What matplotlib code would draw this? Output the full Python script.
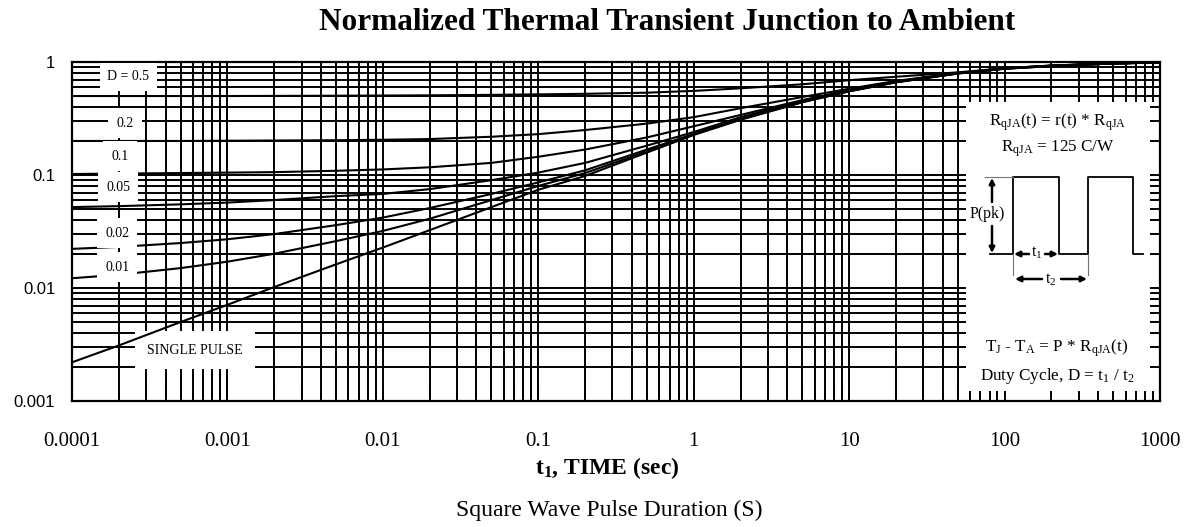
import matplotlib
matplotlib.use('Agg')
import matplotlib.pyplot as plt
from matplotlib.patches import Rectangle
from matplotlib.ticker import NullFormatter, FixedLocator

plt.rcParams['font.family'] = ['Liberation Serif', 'DejaVu Serif']
plt.rcParams['mathtext.fontset'] = 'custom'
plt.rcParams['mathtext.rm'] = 'Liberation Serif'
plt.rcParams['mathtext.it'] = 'Liberation Serif:italic'
plt.rcParams['mathtext.bf'] = 'Liberation Serif:bold'

# ---------------- data ----------------
t = [1e-4, 2e-4, 5e-4, 1e-3, 2e-3, 5e-3, 1e-2, 2e-2, 5e-2, 0.1, 0.2, 0.5,
     1, 2, 5, 10, 20, 50, 100, 200, 500, 1000]
r_d05 = [0.500, 0.500, 0.500, 0.500, 0.501, 0.503, 0.505, 0.507, 0.512, 0.517, 0.523, 0.535,
         0.555, 0.585, 0.635, 0.690, 0.740, 0.810, 0.880, 0.930, 0.975, 0.990]
r_d02 = [0.200, 0.200, 0.200, 0.201, 0.202, 0.203, 0.205, 0.208, 0.218, 0.230, 0.250, 0.285,
         0.325, 0.390, 0.490, 0.580, 0.680, 0.800, 0.880, 0.930, 0.972, 0.990]
r_d01 = [0.102, 0.103, 0.104, 0.105, 0.106, 0.109, 0.112, 0.117, 0.128, 0.145, 0.168, 0.215,
         0.270, 0.340, 0.460, 0.565, 0.672, 0.798, 0.878, 0.928, 0.972, 0.990]
r_d005 = [0.052, 0.053, 0.055, 0.057, 0.060, 0.065, 0.068, 0.075, 0.090, 0.105, 0.128, 0.182,
          0.240, 0.325, 0.452, 0.560, 0.668, 0.796, 0.876, 0.926, 0.972, 0.990]
r_d002 = [0.0222, 0.0231, 0.0250, 0.0270, 0.0300, 0.0360, 0.0420, 0.0510, 0.0680, 0.0860, 0.1100, 0.1680,
          0.2310, 0.3130, 0.4440, 0.5540, 0.6640, 0.7940, 0.8740, 0.9240, 0.9700, 0.9900]
r_d001 = [0.0122, 0.0131, 0.0150, 0.0171, 0.0201, 0.0260, 0.0320, 0.0410, 0.0600, 0.0800, 0.1040, 0.1620,
          0.2290, 0.3110, 0.4420, 0.5520, 0.6620, 0.7920, 0.8720, 0.9220, 0.9700, 0.9900]
r_single = [0.0022, 0.0031, 0.0050, 0.0071, 0.0102, 0.0162, 0.0228, 0.0325, 0.0520, 0.0740, 0.0980, 0.1580,
            0.2260, 0.3080, 0.4400, 0.5500, 0.6600, 0.7900, 0.8700, 0.9200, 0.9700, 0.9900]
curves = [r_d05, r_d02, r_d01, r_d005, r_d002, r_d001, r_single]

curve_labels = ["D = 0.5", "0.2", "0.1", "0.05", "0.02", "0.01", "SINGLE PULSE"]
x_tick_vals = [1e-4, 1e-3, 1e-2, 1e-1, 1, 10, 100, 1000]
x_tick_labels = ["0.0001", "0.001", "0.01", "0.1", "1", "10", "100", "1000"]
y_tick_vals = [1e-3, 1e-2, 1e-1, 1]
y_tick_labels = ["0.001", "0.01", "0.1", "1"]

# ---------------- layout ----------------
W, H = 1189, 527
L, R, T, B = 72, 1160, 62, 401
fig = plt.figure(figsize=(W / 100, H / 100), dpi=100)
ax = fig.add_axes([L / W, 1 - B / H, (R - L) / W, (B - T) / H])
ax.set_xscale('log')
ax.set_yscale('log')
ax.set_xlim(1e-4, 1e3)
ax.set_ylim(1e-3, 1)
ax.set_axisbelow(False)

GLW = 1.4
# grid lines (major + minor), all solid black
xgrid = [m * 10.0 ** d for d in range(-4, 3) for m in range(1, 10)] + [1000.0]
ygrid = [m * 10.0 ** d for d in range(-3, 0) for m in range(1, 10)] + [1.0]
for v in xgrid:
    ax.axvline(v, color='k', lw=GLW, zorder=1)
for v in ygrid:
    ax.axhline(v, color='k', lw=GLW, zorder=1)

for c in curves:
    ax.plot(t, c, color='k', lw=1.5, zorder=1.6)

# inset white box (lower right)
box_l, box_top = 51.5, 0.44
ax.add_patch(Rectangle((box_l, 1e-3), 1000 - box_l, box_top - 1e-3,
                       facecolor='white', edgecolor='none', zorder=2))
stub = 10 ** (6 / 155.5)
for v in ygrid:
    if v < box_top:
        ax.plot([box_l, box_l * stub], [v, v], color='k', lw=GLW, zorder=3,
                solid_capstyle='butt')

# ticks
ax.xaxis.set_major_locator(FixedLocator(x_tick_vals))
ax.yaxis.set_major_locator(FixedLocator(y_tick_vals))
ax.xaxis.set_minor_formatter(NullFormatter())
ax.yaxis.set_minor_formatter(NullFormatter())
ax.set_xticklabels(x_tick_labels, fontsize=15)
ax.set_yticklabels(y_tick_labels, fontsize=12, family=['Liberation Sans', 'DejaVu Sans'])
ax.tick_params(which='both', direction='in', length=7, width=GLW, top=True, right=True)
ax.tick_params(axis='x', which='major', pad=22)
ax.tick_params(axis='y', which='major', pad=12)
for s in ax.spines.values():
    s.set_linewidth(1.6)
    s.set_zorder(3)

# curve labels with white background
label_pos = [(2.3e-4, 0.74), (2.2e-4, 0.288), (2.03e-4, 0.147), (1.98e-4, 0.0783),
             (1.95e-4, 0.0306), (1.95e-4, 0.0153), (6.2e-4, 0.00282)]
label_pad = [0.55, 0.6, 0.6, 0.6, 0.6, 0.6, 0.9]
label_z = [4, 4, 4, 4, 4, 4, 1.55]
for txt, (x, y), p, z in zip(curve_labels, label_pos, label_pad, label_z):
    ax.text(x, y, txt, ha='center', va='center', fontsize=10, zorder=z,
            bbox=dict(boxstyle='square,pad=%g' % p, fc='white', ec='none'))

# ---------------- inset diagram ----------------
def P(px, py):
    return ((px - L) / (R - L), (B - py) / (B - T))

def line(pxs, pys, **kw):
    pts = [P(a, b) for a, b in zip(pxs, pys)]
    ax.plot([p[0] for p in pts], [p[1] for p in pts], transform=ax.transAxes,
            zorder=3, clip_on=False, **kw)

def arrow(p0, p1):
    ax.annotate('', xy=P(*p1), xytext=P(*p0), xycoords='axes fraction',
                textcoords='axes fraction', zorder=3,
                arrowprops=dict(arrowstyle='-|>', color='k', lw=1.8,
                                mutation_scale=8, shrinkA=0, shrinkB=0))

def itext(px, py, s, fs=12.3):
    x, y = P(px, py)
    ax.text(x, y, s, transform=ax.transAxes, ha='center', va='center',
            fontsize=fs, zorder=3)

itext(1058, 122, r"R$_{\mathrm{qJA}}$(t) = r(t) * R$_{\mathrm{qJA}}$")
itext(1058, 149, r"R$_{\mathrm{qJA}}$ = 125 C/W")
itext(1057, 348, r"T$_{\mathrm{J}}$ - T$_{\mathrm{A}}$ = P * R$_{\mathrm{qJA}}$(t)")
itext(1057, 376, r"Duty Cycle, D = t$_{1}$ / t$_{2}$")

# square wave
line([990, 1013, 1013, 1059, 1059, 1088, 1088, 1133, 1133, 1143],
     [254, 254, 177, 177, 254, 254, 177, 177, 254, 254], color='k', lw=1.3)
line([985, 1013], [177, 177], color='0.45', lw=0.8)
line([1013, 1013], [254, 275], color='0.45', lw=0.8)
line([1088, 1088], [254, 275], color='0.45', lw=0.8)
# P(pk)
itext(987, 214, "P(pk)", fs=11.5)
arrow((992, 202), (992, 178))
arrow((992, 226), (992, 253))
# t1
itext(1037, 253, r"t$_{1}$", fs=11.5)
arrow((1029, 254), (1014, 254))
arrow((1045, 254), (1058, 254))
# t2
itext(1051, 280, r"t$_{2}$", fs=11.5)
arrow((1042, 279), (1015, 279))
arrow((1061, 279), (1087, 279))

# ---------------- titles ----------------
fig.text(667 / W, 1 - 23 / H, "Normalized Thermal Transient Junction to Ambient",
         ha='center', va='center', fontsize=22.5, fontweight='bold')
fig.text(607 / W, 1 - 468 / H, r"t$_{\mathbf{1}}$, TIME (sec)", ha='center', va='center',
         fontsize=17, fontweight='bold')
fig.text(609 / W, 1 - 510 / H, "Square Wave Pulse Duration (S)", ha='center', va='center',
         fontsize=17)

fig.savefig('out.png', dpi=100)
